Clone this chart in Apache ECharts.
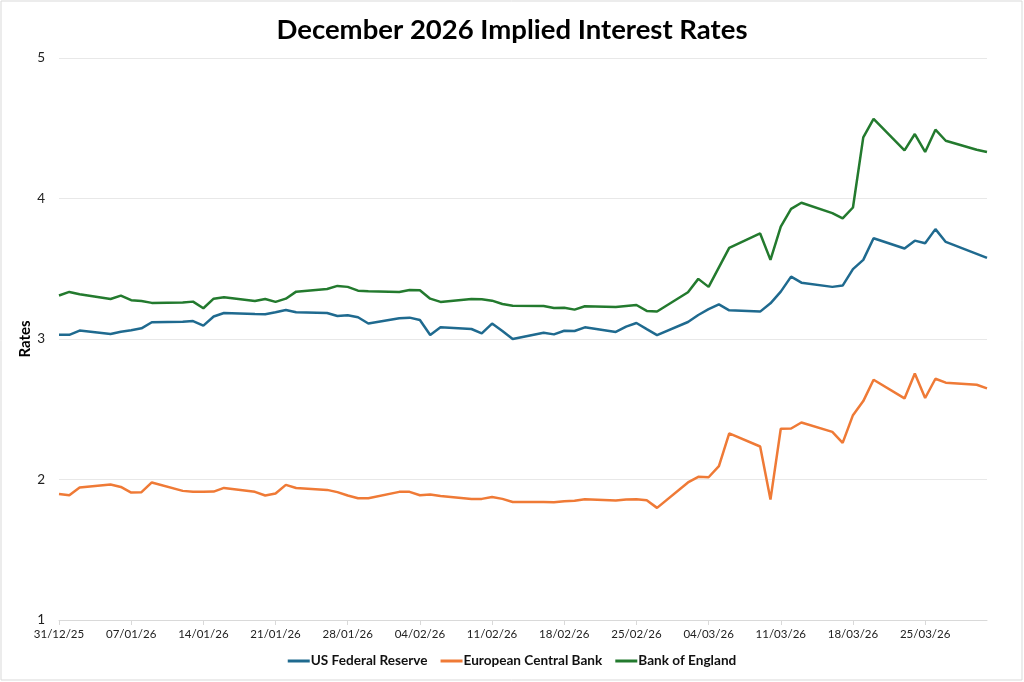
<!DOCTYPE html>
<html>
<head>
<meta charset="utf-8">
<script src="https://cdn.jsdelivr.net/npm/echarts@6/dist/echarts.min.js"></script>
<style>
html,body{margin:0;padding:0;background:#fff;}
#chart{width:1024px;height:682px;}
</style>
</head>
<body>
<div id="chart"></div>
<script>
var dates = ['2025-12-31','2026-01-01','2026-01-02',
'2026-01-05','2026-01-06','2026-01-07','2026-01-08','2026-01-09',
'2026-01-12','2026-01-13','2026-01-14','2026-01-15','2026-01-16',
'2026-01-19','2026-01-20','2026-01-21','2026-01-22','2026-01-23',
'2026-01-26','2026-01-27','2026-01-28','2026-01-29','2026-01-30',
'2026-02-02','2026-02-03','2026-02-04','2026-02-05','2026-02-06',
'2026-02-09','2026-02-10','2026-02-11','2026-02-12','2026-02-13',
'2026-02-16','2026-02-17','2026-02-18','2026-02-19','2026-02-20',
'2026-02-23','2026-02-24','2026-02-25','2026-02-26','2026-02-27',
'2026-03-02','2026-03-03','2026-03-04','2026-03-05','2026-03-06',
'2026-03-09','2026-03-10','2026-03-11','2026-03-12','2026-03-13',
'2026-03-16','2026-03-17','2026-03-18','2026-03-19','2026-03-20',
'2026-03-23','2026-03-24','2026-03-25','2026-03-26','2026-03-27',
'2026-03-30','2026-03-31'];

var usFed = [3.03,3.03,3.06,
3.036,3.052,3.062,3.076,3.119,
3.122,3.128,3.095,3.16,3.185,
3.178,3.176,3.19,3.207,3.19,
3.185,3.164,3.169,3.155,3.11,
3.147,3.152,3.135,3.028,3.083,
3.071,3.04,3.11,3.057,3.0,
3.045,3.033,3.059,3.057,3.083,
3.05,3.088,3.114,3.07,3.028,
3.121,3.171,3.212,3.247,3.204,
3.195,3.254,3.337,3.444,3.401,
3.371,3.38,3.497,3.563,3.717,
3.644,3.70,3.682,3.782,3.691,
3.606,3.577];

var ecb = [1.897,1.888,1.943,
1.964,1.947,1.907,1.91,1.979,
1.919,1.912,1.912,1.914,1.94,
1.912,1.886,1.90,1.962,1.94,
1.926,1.91,1.886,1.867,1.867,
1.912,1.912,1.888,1.893,1.883,
1.862,1.862,1.876,1.862,1.84,
1.84,1.838,1.845,1.848,1.86,
1.85,1.857,1.86,1.852,1.798,
1.979,2.019,2.016,2.095,2.328,
2.235,1.857,2.361,2.363,2.406,
2.339,2.261,2.458,2.558,2.71,
2.577,2.755,2.58,2.717,2.689,
2.674,2.649];

var boe = [3.31,3.335,3.318,
3.285,3.309,3.276,3.27,3.257,
3.259,3.266,3.219,3.287,3.297,
3.27,3.285,3.264,3.287,3.337,
3.356,3.378,3.371,3.344,3.34,
3.335,3.349,3.347,3.287,3.264,
3.285,3.283,3.273,3.249,3.237,
3.235,3.221,3.223,3.209,3.233,
3.228,3.235,3.242,3.2,3.196,
3.333,3.428,3.371,3.51,3.649,
3.751,3.563,3.80,3.926,3.97,
3.896,3.858,3.936,4.435,4.566,
4.342,4.459,4.331,4.49,4.411,
4.347,4.331];

var seriesNames = ['US Federal Reserve','European Central Bank','Bank of England'];
var startDate = '2025-12-31';
var endDate = '2026-03-31';

var DAY = 86400000;
function dayOf(s){ return Math.round((Date.parse(s+'T00:00:00Z') - Date.parse(startDate+'T00:00:00Z'))/DAY); }
function fmt(d){
  var t = new Date(Date.parse(startDate+'T00:00:00Z') + d*DAY);
  var dd = ('0'+t.getUTCDate()).slice(-2), mm = ('0'+(t.getUTCMonth()+1)).slice(-2), yy = String(t.getUTCFullYear()).slice(-2);
  return dd+'/'+mm+'/'+yy;
}
function pairs(vals){ return dates.map(function(d,i){ return [dayOf(d), vals[i]]; }); }

var font = 'Lato, "Open Sans", sans-serif';
var chart = echarts.init(document.getElementById('chart'), null, {renderer:'canvas'});
chart.setOption({
  animation:false,
  backgroundColor:'#fff',
  textStyle:{fontFamily:font},
  title:{text:'December 2026 Implied Interest Rates', left:'center', top:11,
    textStyle:{fontFamily:font, fontSize:27.5, fontWeight:'bold', color:'#000'}},
  graphic:[{type:'rect', shape:{x:1,y:1,width:1021,height:679}, style:{fill:'none', stroke:'#d9d9d9', lineWidth:1}, silent:true}],
  legend:{bottom:9, left:'center', itemWidth:22, itemHeight:3, itemGap:13, icon:'rect',
    textStyle:{fontFamily:font, fontSize:13.6, fontWeight:'bold', color:'#111', padding:[0,0,0,-4]},
    data:seriesNames},
  grid:{left:59, right:37, top:58, bottom:62, containLabel:false},
  xAxis:{type:'value', min:0, max:dayOf(endDate), interval:7,
    axisLine:{show:true, lineStyle:{color:'#d9d9d9', width:1}},
    axisTick:{show:true, length:5, lineStyle:{color:'#d9d9d9'}},
    axisLabel:{fontFamily:font, fontSize:11.5, color:'#222', margin:8, showMaxLabel:false,
      formatter:function(v){ return (v%7===0) ? fmt(v) : ''; }},
    splitLine:{show:false}},
  yAxis:{type:'value', min:1, max:5, interval:1, name:'Rates', nameLocation:'middle', nameGap:26, nameMoveOverlap:false,
    nameTextStyle:{fontFamily:font, fontSize:15, fontWeight:'bold', color:'#000'},
    axisLine:{show:false}, axisTick:{show:false},
    axisLabel:{fontFamily:font, fontSize:13.5, color:'#222', margin:14},
    splitLine:{lineStyle:{color:'#e8e8e8', width:1}}},
  series:[
    {name:seriesNames[0], type:'line', data:pairs(usFed), showSymbol:false, symbol:'none', lineStyle:{width:2.5, color:'#1f6a8f'}, itemStyle:{color:'#1f6a8f'}},
    {name:seriesNames[1], type:'line', data:pairs(ecb), showSymbol:false, symbol:'none', lineStyle:{width:2.5, color:'#ef7a36'}, itemStyle:{color:'#ef7a36'}},
    {name:seriesNames[2], type:'line', data:pairs(boe), showSymbol:false, symbol:'none', lineStyle:{width:2.5, color:'#237a2e'}, itemStyle:{color:'#237a2e'}}
  ]
});
</script>
</body>
</html>
